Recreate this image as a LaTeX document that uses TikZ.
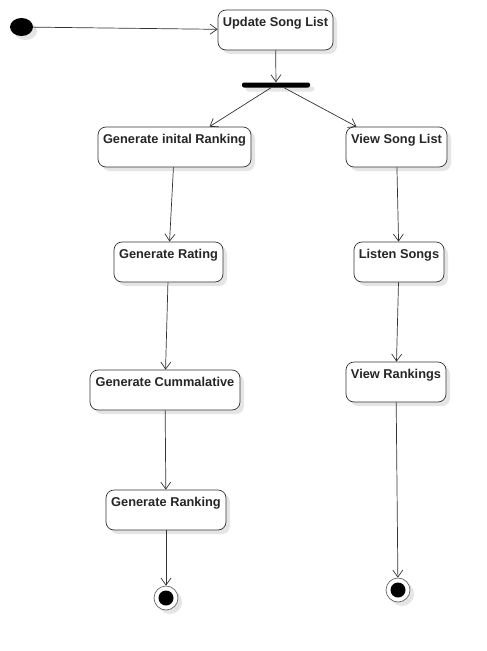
\documentclass[tikz,border=0pt]{standalone}
\usepackage{fontspec}
\setmainfont{Liberation Sans}
\usetikzlibrary{arrows.meta,shapes.geometric,shadows}

\begin{document}
\begin{tikzpicture}[x=1pt, y=-1pt,
    font=\bfseries\fontsize{12.8}{14}\selectfont,
    shade/.style={drop shadow={shadow xshift=4pt, shadow yshift=-4pt, fill=black!10, opacity=1}},
    activity/.style={draw=black!80, line width=0.7pt, fill=white, rounded corners=8pt, shade, inner xsep=2pt, inner ysep=6pt, text height=10pt, text depth=18pt, text=black!85},
    final/.style={draw=black!60, line width=0.7pt, fill=white, circle, minimum size=24pt, inner sep=0pt, shade, path picture={\fill[black] (path picture bounding box.center) circle (7.5pt);}},
    flow/.style={draw=black!80, line width=0.7pt, -{Straight Barb[length=7pt, width=10pt]}}]
    \useasboundingbox (0, 0) rectangle (487, 651);

    \node (init) [ellipse, fill=black, minimum width=23pt, minimum height=18pt, inner sep=0pt, shade] at (21.5, 27) {};
    \node (update) [activity, minimum width=115pt] at (275.5, 30) {Update Song List};
    \node (fork) [fill=black, rounded corners=2pt, minimum width=68pt, minimum height=5pt, inner sep=0pt, shade] at (276, 85) {};

    \node (initrank) [activity, minimum width=153pt] at (174.5, 147) {Generate inital Ranking};
    \node (rating) [activity, minimum width=109pt] at (168.5, 262) {Generate Rating};
    \node (cumm) [activity, minimum width=150pt] at (165, 390) {Generate Cummalative};
    \node (ranking) [activity, minimum width=120pt] at (166, 510) {Generate Ranking};
    \node (end1) [final] at (166, 598) {};

    \node (songlist) [activity, minimum width=101pt] at (396.5, 147) {View Song List};
    \node (listen) [activity, minimum width=90pt] at (399, 262) {Listen Songs};
    \node (rankings) [activity, minimum width=100pt] at (396, 382) {View Rankings};
    \node (end2) [final] at (398, 590) {};

    \draw[flow] (init) -- (update);
    \draw[flow] (update) -- (fork);
    \draw[flow] ([xshift=-5pt]fork.south) -- ([xshift=35pt]initrank.north);
    \draw[flow] ([xshift=8pt]fork.south) -- ([xshift=-40pt]songlist.north);

    \draw[flow] (initrank) -- (rating);
    \draw[flow] (rating) -- (cumm);
    \draw[flow] (cumm) -- (ranking);
    \draw[flow] (ranking) -- (end1);

    \draw[flow] (songlist) -- (listen);
    \draw[flow] (listen) -- (rankings);
    \draw[flow] (rankings) -- (end2);
\end{tikzpicture}
\end{document}
